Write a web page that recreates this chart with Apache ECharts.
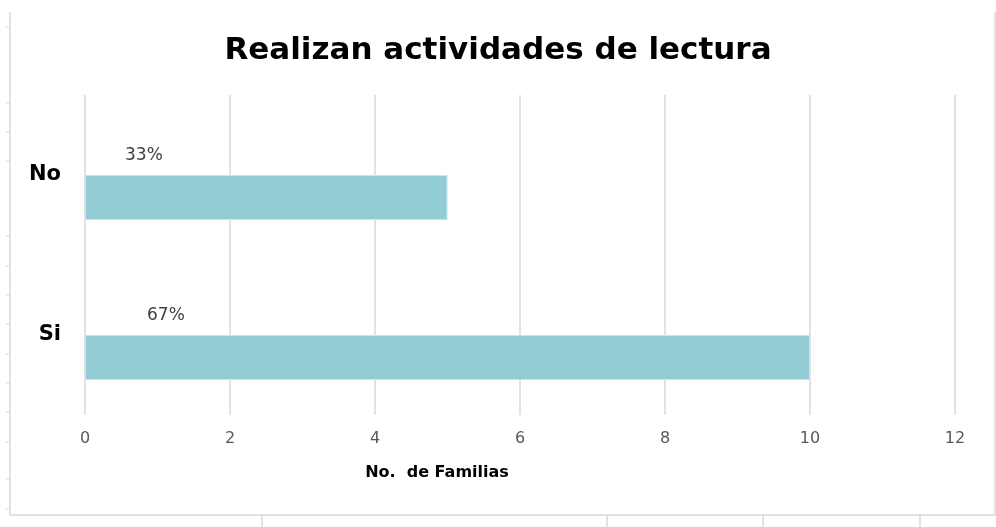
<!DOCTYPE html>
<html>
<head>
<meta charset="utf-8">
<script src="https://cdn.jsdelivr.net/npm/echarts@6/dist/echarts.min.js"></script>
<style>
  html, body { margin: 0; padding: 0; background: #fff; }
  #chart { width: 996px; height: 527px; }
</style>
</head>
<body>
<div id="chart"></div>
<script>
// data
const categories = ['Si', 'No'];
const familias = [10, 5];
const percents = [67, 33];
const xTicks = [0, 2, 4, 6, 8, 10, 12];

const chart = echarts.init(document.getElementById('chart'));

// where each % label sits over its bar (px from bar's left/top)
const labelPos = [[62, -28], [40, -28]];

// little spreadsheet marks around the frame
const leftMarks = [27, 103, 132, 161, 236, 266, 295, 324, 354, 383, 412, 442, 479, 509];
const bottomMarks = [262, 607, 763, 920];
const frameColor = '#d9d9d9';

const decor = [
  { type: 'polyline', shape: { points: [[10, 12], [10, 515], [995, 515], [995, 12]] },
    style: { stroke: frameColor, lineWidth: 1.5, fill: null }, silent: true }
];
leftMarks.forEach(y => decor.push({
  type: 'line', shape: { x1: 6, y1: y, x2: 10, y2: y },
  style: { stroke: frameColor, lineWidth: 1 }, silent: true
}));
bottomMarks.forEach(x => decor.push({
  type: 'line', shape: { x1: x, y1: 515, x2: x, y2: 527 },
  style: { stroke: frameColor, lineWidth: 1.5 }, silent: true
}));

const option = {
  backgroundColor: '#fff',
  animation: false,
  title: {
    text: 'Realizan actividades de lectura',
    left: 'center',
    top: 30,
    textStyle: { fontFamily: 'DejaVu Sans', fontWeight: 'bold', fontSize: 31, color: '#000' }
  },
  grid: { left: 85, right: 41, top: 95, bottom: 112 },
  xAxis: {
    type: 'value',
    min: 0,
    max: 12,
    interval: 2,
    data: xTicks,
    name: 'No.  de Familias',
    nameLocation: 'middle',
    nameGap: 50,
    nameTextStyle: {
      fontFamily: 'DejaVu Sans', fontWeight: 'bold', fontSize: 16, color: '#000',
      padding: [0, 166, 0, 0]
    },
    axisLine: { show: false },
    axisTick: { show: false },
    axisLabel: { margin: 16, fontFamily: 'DejaVu Sans', fontSize: 16, color: '#595959' },
    splitLine: { lineStyle: { color: frameColor, width: 1.5 } }
  },
  yAxis: {
    type: 'category',
    data: categories,
    axisLine: { show: false },
    axisTick: { show: false },
    axisLabel: { margin: 24, fontFamily: 'DejaVu Sans', fontWeight: 'bold', fontSize: 21, color: '#000' }
  },
  series: [
    {
      // empty slot so the bars sit a bit below the category centre
      name: 'spacer',
      type: 'bar',
      barWidth: 45,
      barGap: '0%',
      data: []
    },
    {
      name: 'Familias',
      type: 'bar',
      barWidth: 45,
      barGap: '0%',
      itemStyle: { color: '#92cdd4', borderColor: '#c6e6ea', borderWidth: 1 },
      data: familias.map((v, i) => ({
        value: v,
        label: {
          show: true,
          position: labelPos[i],
          align: 'left',
          verticalAlign: 'top',
          formatter: percents[i] + '%',
          fontFamily: 'DejaVu Sans',
          fontSize: 17,
          color: '#404040'
        }
      }))
    }
  ],
  graphic: decor
};

chart.setOption(option);
</script>
</body>
</html>
